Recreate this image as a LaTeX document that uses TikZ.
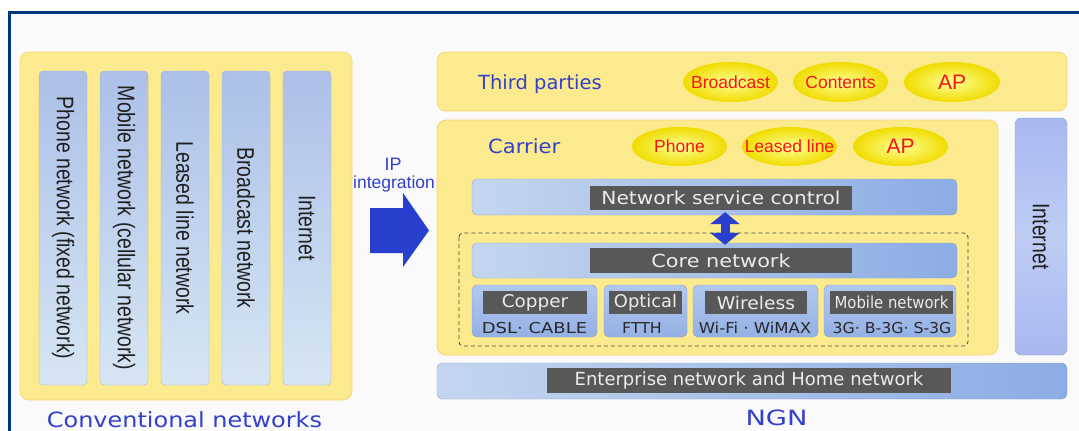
\documentclass[tikz,border=0pt]{standalone}
\usepackage{fontspec}
\setmainfont{DejaVu Sans}
\newfontfamily\arialf{Liberation Sans}
\usetikzlibrary{shapes.geometric,arrows.meta,calc}
\newcommand{\sxs}[2]{\scalebox{#1}[1]{#2}}
\newcommand{\myfs}[1]{\fontsize{#1}{#1}\selectfont}
\definecolor{navyF}{RGB}{0,56,128}
\definecolor{bgF}{RGB}{250,250,251}
\definecolor{panelY}{RGB}{252,234,142}
\definecolor{panelB}{RGB}{248,214,120}
\definecolor{colT}{RGB}{172,192,232}
\definecolor{colBot}{RGB}{214,230,243}
\definecolor{colB}{RGB}{160,180,215}
\definecolor{barL}{RGB}{196,214,238}
\definecolor{barR}{RGB}{140,172,228}
\definecolor{barB}{RGB}{140,165,210}
\definecolor{darkL}{RGB}{88,88,88}
\definecolor{lightT}{RGB}{236,236,236}
\definecolor{titleB}{RGB}{50,64,205}
\definecolor{ellR}{RGB}{250,20,20}
\definecolor{ellIn}{RGB}{255,255,150}
\definecolor{ellOut}{RGB}{240,220,0}
\definecolor{smallT}{RGB}{40,40,40}
\definecolor{boxT}{RGB}{178,200,238}
\definecolor{boxBot}{RGB}{148,176,228}
\definecolor{boxB}{RGB}{128,158,212}
\definecolor{intT}{RGB}{168,184,240}
\definecolor{intM}{RGB}{190,204,244}
\definecolor{ipB}{RGB}{40,62,205}
\begin{document}
\begin{tikzpicture}[x=1pt,y=-1pt,
  panel/.style={rounded corners=9pt, fill=panelY, draw=panelB, line width=0.8pt, inner sep=0pt},
  col/.style={rounded corners=4pt, draw=colB, top color=colT, bottom color=colBot, inner sep=0pt, minimum width=48, minimum height=314},
  coltxt/.style={rotate=-90, text=black!88, font=\arialf\myfs{24}, inner sep=0pt},
  bar/.style={rounded corners=5pt, draw=barB, left color=barL, right color=barR, inner sep=0pt},
  dlab/.style={fill=darkL, text=lightT, inner sep=0pt},
  sbox/.style={rounded corners=5pt, draw=boxB, top color=boxT, bottom color=boxBot, inner sep=0pt, minimum height=52},
  subtxt/.style={text=smallT, inner sep=0pt, font=\myfs{15}},
  ell/.style={ellipse, inner sep=0pt, inner color=ellIn, outer color=ellOut, minimum height=40, minimum width=95},
  elltxt/.style={text=ellR, inner sep=0pt, font=\arialf\myfs{17.5}},
  ttl/.style={text=titleB, inner sep=0pt},
  dbl/.style={draw=ipB, line width=9pt, {Triangle[width=29pt,length=12pt]}-{Triangle[width=29pt,length=12pt]}, shorten <=-3pt, shorten >=-2pt}
]
\useasboundingbox (0,0) rectangle (1079,431);
\fill[white] (0,0) rectangle (1079,431);
\fill[bgF] (9,12.5) rectangle (1079,431);
\draw[navyF, line width=3pt] (9,431) -- (9,12.5) -- (1079,12.5);

% Conventional networks
\node[panel, minimum width=332, minimum height=348] (conv) at (186,226) {};
\node[col, label={[coltxt]center:\sxs{0.81}{Phone network (fixed network)}}] (c1) at (63,228) {};
\node[col, label={[coltxt]center:\sxs{0.81}{Mobile network (cellular network)}}] (c2) at (124,228) {};
\node[col, label={[coltxt]center:\sxs{0.81}{Leased line network}}] (c3) at (185,228) {};
\node[col, label={[coltxt]center:\sxs{0.81}{Broadcast network}}] (c4) at (246,228) {};
\node[col, label={[coltxt]center:\sxs{0.81}{Internet}}] (c5) at (307,228) {};
\node[ttl, anchor=base, font=\myfs{21}] (convt) at (184.5,427) {\sxs{1.14}{Conventional networks}};

% IP integration
\node[ttl, anchor=base, font=\arialf\myfs{18}] (ipt) at (393,170) {IP};
\node[ttl, anchor=base, font=\arialf\myfs{17.5}] (ipt2) at (394,188) {integration};
\fill[ipB] (370,208) -- (403,208) -- (403,193) -- (429,230.5) -- (403,267) -- (403,253) -- (370,253) -- cycle;

% Third parties
\node[panel, minimum width=630, minimum height=59] (third) at (752,81.5) {};
\node[ttl, anchor=base west, font=\myfs{19.5}] (thirdt) at (478,89) {Third parties};
\node[ell, label={[elltxt]center:Broadcast}] (e1) at (730.5,82) {};
\node[ell, label={[elltxt]center:Contents}] (e2) at (840.5,82) {};
\node[ell, minimum width=96, label={[elltxt, font=\arialf\myfs{21}]center:AP}] (e3) at (952,82) {};

% Carrier
\node[panel, minimum width=561, minimum height=235] (carrier) at (717.5,237.5) {};
\node[ttl, anchor=base west, font=\myfs{19.5}] (carriert) at (488,153) {\sxs{1.08}{Carrier}};
\node[ell, minimum height=39, label={[elltxt]center:Phone}] (e4) at (679.5,146.5) {};
\node[ell, minimum height=39, label={[elltxt]center:Leased line}] (e5) at (789.5,146.5) {};
\node[ell, minimum height=39, label={[elltxt, font=\arialf\myfs{21}]center:AP}] (e6) at (900.5,146.5) {};

\node[bar, minimum width=485, minimum height=36] (nsc) at (714.5,197) {};
\node[dlab, minimum width=262, minimum height=24, font=\myfs{18}] (nscl) at (721,198) {\sxs{1.12}{Network service control}};

\draw[dashed, dash pattern=on 4pt off 3pt, draw=black!70, line width=0.9pt, rounded corners=4pt] (459,233) rectangle (968,346);

\node[bar, minimum width=485, minimum height=35] (core) at (714.5,260.5) {};
\node[dlab, minimum width=262, minimum height=25, font=\myfs{18}] (corel) at (721,260.5) {\sxs{1.155}{Core network}};

\coordinate (ax) at (725,0);
\draw[dbl] (nsc.south -| ax) -- (core.north -| ax);

% access boxes
\node[sbox, minimum width=125] (b1) at (534.5,311) {};
\node[dlab, minimum width=104, minimum height=23, font=\myfs{17.5}] (b1l) at (535,302.5) {\sxs{1.05}{Copper}};
\node[subtxt] (b1s) at (534.5,328) {\sxs{1.2}{DSL· CABLE}};

\node[sbox, minimum width=83] (b2) at (645.5,311) {};
\node[dlab, minimum width=73, minimum height=23, font=\myfs{17.5}] (b2l) at (645.5,302.5) {\sxs{1.02}{Optical}};
\node[subtxt] (b2s) at (642,328) {\sxs{1.05}{FTTH}};

\node[sbox, minimum width=125] (b3) at (755.5,311) {};
\node[dlab, minimum width=102, minimum height=23, font=\myfs{17.5}] (b3l) at (756,302.5) {\sxs{1.07}{Wireless}};
\node[subtxt] (b3s) at (755,328) {\sxs{1.1}{Wi-Fi · WiMAX}};

\node[sbox, minimum width=132] (b4) at (890,311) {};
\node[dlab, minimum width=123, minimum height=23, font=\myfs{16.5}] (b4l) at (891.5,302.5) {\sxs{0.9}{Mobile network}};
\node[subtxt] (b4s) at (892,328) {\sxs{1.05}{3G· B-3G· S-3G}};

% Internet right
\node[rounded corners=6pt, draw=barB, top color=intT, bottom color=intT, middle color=intM, inner sep=0pt, minimum width=52, minimum height=237,
  label={[coltxt]center:\sxs{0.81}{Internet}}] (inet) at (1041,236.5) {};

% Enterprise
\node[bar, minimum width=630, minimum height=36] (ent) at (752,381) {};
\node[dlab, minimum width=404, minimum height=25, font=\myfs{18}] (entl) at (749,380.5) {Enterprise network and Home network};

\node[ttl, anchor=base, font=\myfs{21}] (ngn) at (776.5,425) {\sxs{1.3}{NGN}};
\end{tikzpicture}
\end{document}
